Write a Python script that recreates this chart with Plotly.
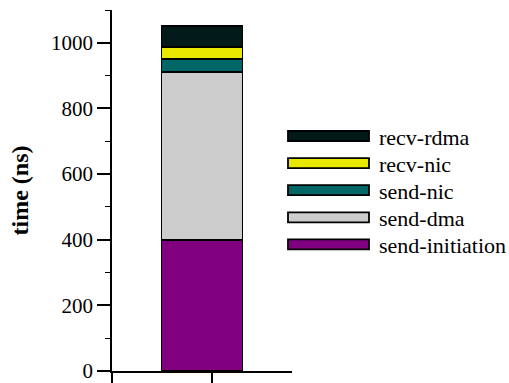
import plotly.graph_objects as go

# Time breakdown of one message transfer (ns), stacked bottom to top
components = ["send-initiation", "send-dma", "send-nic", "recv-nic", "recv-rdma"]
times_ns = [400, 512, 38, 38, 64]
colors = ["#800080", "#cccccc", "#006666", "#e8e800", "#021a1a"]

y_ticks = [0, 200, 400, 600, 800, 1000]

SERIF = "Liberation Serif"

fig = go.Figure()
for name, t, c in zip(components, times_ns, colors):
    fig.add_trace(go.Bar(
        x=[90], y=[t], width=81, name=name,
        marker=dict(color=c, line=dict(color="black", width=1.8)),
        showlegend=False,
    ))

# Plot area geometry in pixels (used to place the hand-built legend)
L, R, T, B = 112, 217, 10, 12
W, H = 509 - L - R, 383 - T - B

def px_x(p):
    return (p - L) / W

def px_y(p):
    return (383 - B - p) / H

shapes = []
annotations = []
row0, row_gap = 136, 27.1
for i, (name, c) in enumerate(zip(components[::-1], colors[::-1])):
    yc = row0 + i * row_gap
    shapes.append(dict(
        type="rect", xref="paper", yref="paper",
        x0=px_x(288), x1=px_x(369), y0=px_y(yc + 5), y1=px_y(yc - 5),
        fillcolor=c, line=dict(color="black", width=1.8),
    ))
    annotations.append(dict(
        text=name, xref="paper", yref="paper", x=px_x(377), y=px_y(yc + 1),
        xanchor="left", yanchor="middle", showarrow=False,
        font=dict(family=SERIF, size=22),
    ))

fig.update_layout(
    template="none",
    barmode="stack",
    width=509, height=383,
    margin=dict(l=L, r=R, t=T, b=B, pad=0, autoexpand=False),
    paper_bgcolor="white", plot_bgcolor="white",
    font=dict(family=SERIF, size=21, color="black"),
    shapes=shapes, annotations=annotations,
    xaxis=dict(
        range=[0, W], showgrid=False, zeroline=False, automargin=False,
        showline=True, linecolor="black", linewidth=1.6,
        tickvals=[0, 100], ticktext=["", ""],
        ticks="outside", ticklen=12, tickwidth=1.6, tickcolor="black",
    ),
    yaxis=dict(
        range=[0, 1100], showgrid=False, zeroline=False, automargin=False,
        showline=True, linecolor="black", linewidth=1.6,
        tickvals=y_ticks, ticks="outside", ticklen=13, tickwidth=1.6,
        tickcolor="black", tickfont=dict(family=SERIF, size=21),
        ticklabeloverflow="allow",
        minor=dict(dtick=100, ticks="outside", ticklen=5, tickwidth=1.4,
                   tickcolor="black", showgrid=False),
        title=dict(text="<b>time (ns)</b>", standoff=16,
                   font=dict(family=SERIF, size=24)),
    ),
)

fig.write_html("out.html")
